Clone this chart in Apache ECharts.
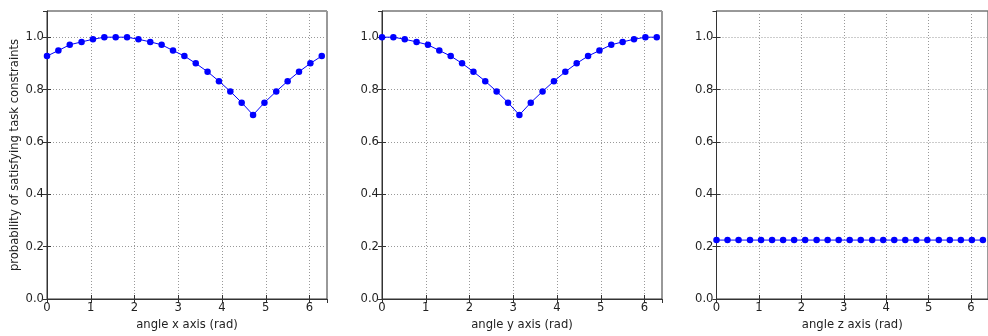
<!DOCTYPE html>
<html>
<head>
<meta charset="utf-8">
<script src="https://cdn.jsdelivr.net/npm/echarts@6/dist/echarts.min.js"></script>
<style>
  html, body { margin: 0; padding: 0; background: #fff; }
  #chart { width: 988px; height: 336px; }
</style>
</head>
<body>
<div id="chart"></div>
<script>
// Sampled rotation angles (rad), shared by all three sweeps
const angles = [0, 0.26, 0.52, 0.79, 1.05, 1.31, 1.57, 1.83, 2.09, 2.36, 2.62, 2.88, 3.14,
                3.40, 3.67, 3.93, 4.19, 4.45, 4.71, 4.97, 5.24, 5.50, 5.76, 6.02, 6.28];

// Probability of satisfying the task constraints for each axis sweep
const probX = [0.928, 0.949, 0.971, 0.982, 0.992, 1.0, 1.0, 1.0, 0.992, 0.982, 0.971, 0.949, 0.928,
               0.900, 0.868, 0.832, 0.793, 0.750, 0.703, 0.750, 0.793, 0.832, 0.868, 0.900, 0.928];
const probY = [1.0, 1.0, 0.992, 0.982, 0.971, 0.949, 0.928, 0.900, 0.868, 0.832, 0.793, 0.750, 0.703,
               0.750, 0.793, 0.832, 0.868, 0.900, 0.928, 0.949, 0.971, 0.982, 0.992, 1.0, 1.0];
const probZ = [0.225, 0.225, 0.225, 0.225, 0.225, 0.225, 0.225, 0.225, 0.225, 0.225, 0.225, 0.225, 0.225,
               0.225, 0.225, 0.225, 0.225, 0.225, 0.225, 0.225, 0.225, 0.225, 0.225, 0.225, 0.225];

const xTitles = ['angle x axis (rad)', 'angle y axis (rad)', 'angle z axis (rad)'];
const yTitle = 'probability of satisfying task constraints';
const panels = [probX, probY, probZ];

const FONT = 'DejaVu Sans';
const FS = 11.6;
const INK = '#222';
const FRAME = '#333';
const lefts = [47, 382, 716.5];
const gridTop = 11, gridH = 288, gridW = 280;

const grids = [], xAxes = [], yAxes = [], series = [];

panels.forEach((vals, i) => {
  grids.push({
    left: lefts[i], top: gridTop, width: gridW, height: gridH,
    show: true, borderColor: FRAME, borderWidth: 1, backgroundColor: 'transparent'
  });
  const common = { min: 0, max: 6.4, interval: 1 };
  // bottom axis with labels and grid lines
  xAxes.push(Object.assign({
    type: 'value', gridIndex: i, position: 'bottom',
    name: xTitles[i], nameLocation: 'middle', nameGap: 18,
    nameTextStyle: { fontFamily: FONT, fontSize: FS, color: INK },
    axisLine: { show: true, onZero: false, lineStyle: { color: FRAME, width: 1 } },
    axisTick: { show: true, inside: true, length: 4, lineStyle: { color: FRAME } },
    axisLabel: { fontFamily: FONT, fontSize: FS, color: INK, margin: 3, showMaxLabel: false },
    splitLine: { show: true, lineStyle: { color: '#999', type: [1, 2], width: 1 } }
  }, common));
  // top axis: inward ticks only
  xAxes.push(Object.assign({
    type: 'value', gridIndex: i, position: 'top',
    axisLine: { show: false },
    axisTick: { show: true, inside: true, length: 4, lineStyle: { color: FRAME } },
    axisLabel: { show: false }, splitLine: { show: false }
  }, common));
  const ycommon = { min: 0, max: 1.1, interval: 0.2 };
  yAxes.push(Object.assign({
    type: 'value', gridIndex: i, position: 'left',
    name: i === 0 ? yTitle : '', nameLocation: 'middle', nameGap: 26,
    nameTextStyle: { fontFamily: FONT, fontSize: FS, color: INK },
    axisLine: { show: true, onZero: false, lineStyle: { color: FRAME, width: 1 } },
    axisTick: { show: true, inside: true, length: 4, lineStyle: { color: FRAME } },
    axisLabel: { fontFamily: FONT, fontSize: FS, color: INK, margin: 3, showMaxLabel: false,
                 formatter: v => v.toFixed(1) },
    splitLine: { show: true, lineStyle: { color: '#999', type: [1, 2], width: 1 } }
  }, ycommon));
  yAxes.push(Object.assign({
    type: 'value', gridIndex: i, position: 'right',
    axisLine: { show: false },
    axisTick: { show: true, inside: true, length: 4, lineStyle: { color: FRAME } },
    axisLabel: { show: false }, splitLine: { show: false }
  }, ycommon));
  series.push({
    type: 'line', xAxisIndex: 2 * i, yAxisIndex: 2 * i,
    data: angles.map((a, k) => [a, vals[k]]),
    symbol: 'circle', symbolSize: 6.5, showSymbol: true,
    lineStyle: { color: '#0000ff', width: 1 },
    itemStyle: { color: '#0000ff', borderWidth: 0 },
    animation: false, clip: true
  });
});

const chart = echarts.init(document.getElementById('chart'), null, { renderer: 'canvas' });
chart.setOption({
  backgroundColor: '#fff',
  animation: false,
  grid: grids, xAxis: xAxes, yAxis: yAxes, series: series
});
</script>
</body>
</html>
